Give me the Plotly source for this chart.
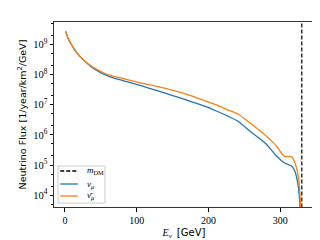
import plotly.graph_objects as go

# Data (energy in GeV, log10 of flux)
E_numu = [1, 4, 8, 17, 26.5, 36, 45, 54, 68, 82, 102, 125, 148, 170, 195, 210, 227, 241,
          258, 270, 281, 295, 306, 316, 320.5, 325, 327, 328.5]
logF_numu = [9.43, 9.21, 9.03, 8.70, 8.46, 8.27, 8.13, 8.01, 7.88, 7.79, 7.66, 7.49,
             7.32, 7.15, 6.95, 6.80, 6.62, 6.45, 6.12, 5.90, 5.68, 5.29, 5.07, 4.96,
             4.79, 4.31, 3.8, 3.0]
E_numubar = [1, 4, 8, 17, 26.5, 36, 45, 54, 68, 82, 102, 125, 148, 170, 195, 210, 227,
             241, 258, 270, 281, 295, 300, 306, 312, 316, 320.5, 325, 327.5, 329]
logF_numubar = [9.43, 9.22, 9.04, 8.71, 8.47, 8.29, 8.16, 8.05, 7.94, 7.86, 7.74, 7.62,
                7.49, 7.34, 7.13, 7.00, 6.83, 6.69, 6.39, 6.17, 5.95, 5.62, 5.45, 5.29,
                5.28, 5.27, 5.07, 4.64, 4.0, 3.0]
m_DM = 330
y_tickvals = [1e4, 1e5, 1e6, 1e7, 1e8, 1e9]
y_ticktext = ["10<sup>4</sup>", "10<sup>5</sup>", "10<sup>6</sup>", "10<sup>7</sup>",
              "10<sup>8</sup>", "10<sup>9</sup>"]
x_tickvals = [0, 100, 200, 300]
legend_labels = ["<i>m</i><sub>DM</sub>", "<i>ν</i><sub><i>μ</i></sub>",
                 "<i>ν̄</i><sub><i>μ</i></sub>"]

flux_numu = [10 ** v for v in logF_numu]
flux_numubar = [10 ** v for v in logF_numubar]

serif = "Liberation Serif"
sans = "DejaVu Sans"
colors = ["black", "#1f77b4", "#ff7f0e"]
dashes = ["4px,2px", "solid", "solid"]

fig = go.Figure()
fig.add_trace(go.Scatter(x=[m_DM, m_DM], y=[1e2, 1e11], mode="lines",
                         line=dict(color=colors[0], width=1.2, dash=dashes[0]),
                         name=legend_labels[0], showlegend=False))
fig.add_trace(go.Scatter(x=E_numu, y=flux_numu, mode="lines",
                         line=dict(color=colors[1], width=1.3, shape="spline", smoothing=0.6),
                         name=legend_labels[1], showlegend=False))
fig.add_trace(go.Scatter(x=E_numubar, y=flux_numubar, mode="lines",
                         line=dict(color=colors[2], width=1.3, shape="spline", smoothing=0.6),
                         name=legend_labels[2], showlegend=False))

# Hand-made legend (compact, like the reference)
shapes = [dict(type="rect", xref="paper", yref="paper", x0=0.0154, x1=0.196,
               y0=0.0216, y1=0.2216, line=dict(color="#cccccc", width=1),
               fillcolor="rgba(255,255,255,0.9)", layer="above")]
annotations = []
rows = [0.1946, 0.1243, 0.0595]
for lab, col, dsh, yy in zip(legend_labels, colors, dashes, rows):
    shapes.append(dict(type="line", xref="paper", yref="paper", x0=0.024, x1=0.092,
                       y0=yy, y1=yy, line=dict(color=col, width=1.3, dash=dsh),
                       layer="above"))
    annotations.append(dict(xref="paper", yref="paper", x=0.118, y=yy, text=lab,
                            showarrow=False, xanchor="left", yanchor="middle",
                            font=dict(family=serif, size=9, color="black")))

fig.update_layout(
    width=320, height=240,
    margin=dict(l=46, r=14, t=14, b=41),
    paper_bgcolor="white", plot_bgcolor="white",
    showlegend=False,
    shapes=shapes, annotations=annotations,
    xaxis=dict(range=[-15.3, 347], tickvals=x_tickvals, ticks="outside", ticklen=3.5,
               tickwidth=0.8, tickcolor="black",
               showline=True, linecolor="#333333", linewidth=1, mirror=True,
               showgrid=False, zeroline=False,
               tickfont=dict(family=serif, size=10, color="black"),
               title=dict(text="<i>E<sub>ν</sub></i>  <span style='font-family:DejaVu Sans'>[GeV]</span>",
                          font=dict(family=serif, size=10, color="black"), standoff=4)),
    yaxis=dict(type="log", range=[3.61, 9.74], tickvals=y_tickvals, ticktext=y_ticktext,
               ticks="outside", ticklen=3.5, tickwidth=0.8, tickcolor="black",
               minor=dict(ticks="outside", ticklen=2, tickcolor="black", tickwidth=0.6,
                          showgrid=False),
               showline=True, linecolor="#333333", linewidth=1, mirror=True,
               showgrid=False, zeroline=False,
               tickfont=dict(family=serif, size=10.5, color="black"),
               title=dict(text="Neutrino Flux [1/year/km<sup>2</sup>/GeV]",
                          font=dict(family=sans, size=9.5, color="black"), standoff=4)),
)

fig.write_html("out.html")
